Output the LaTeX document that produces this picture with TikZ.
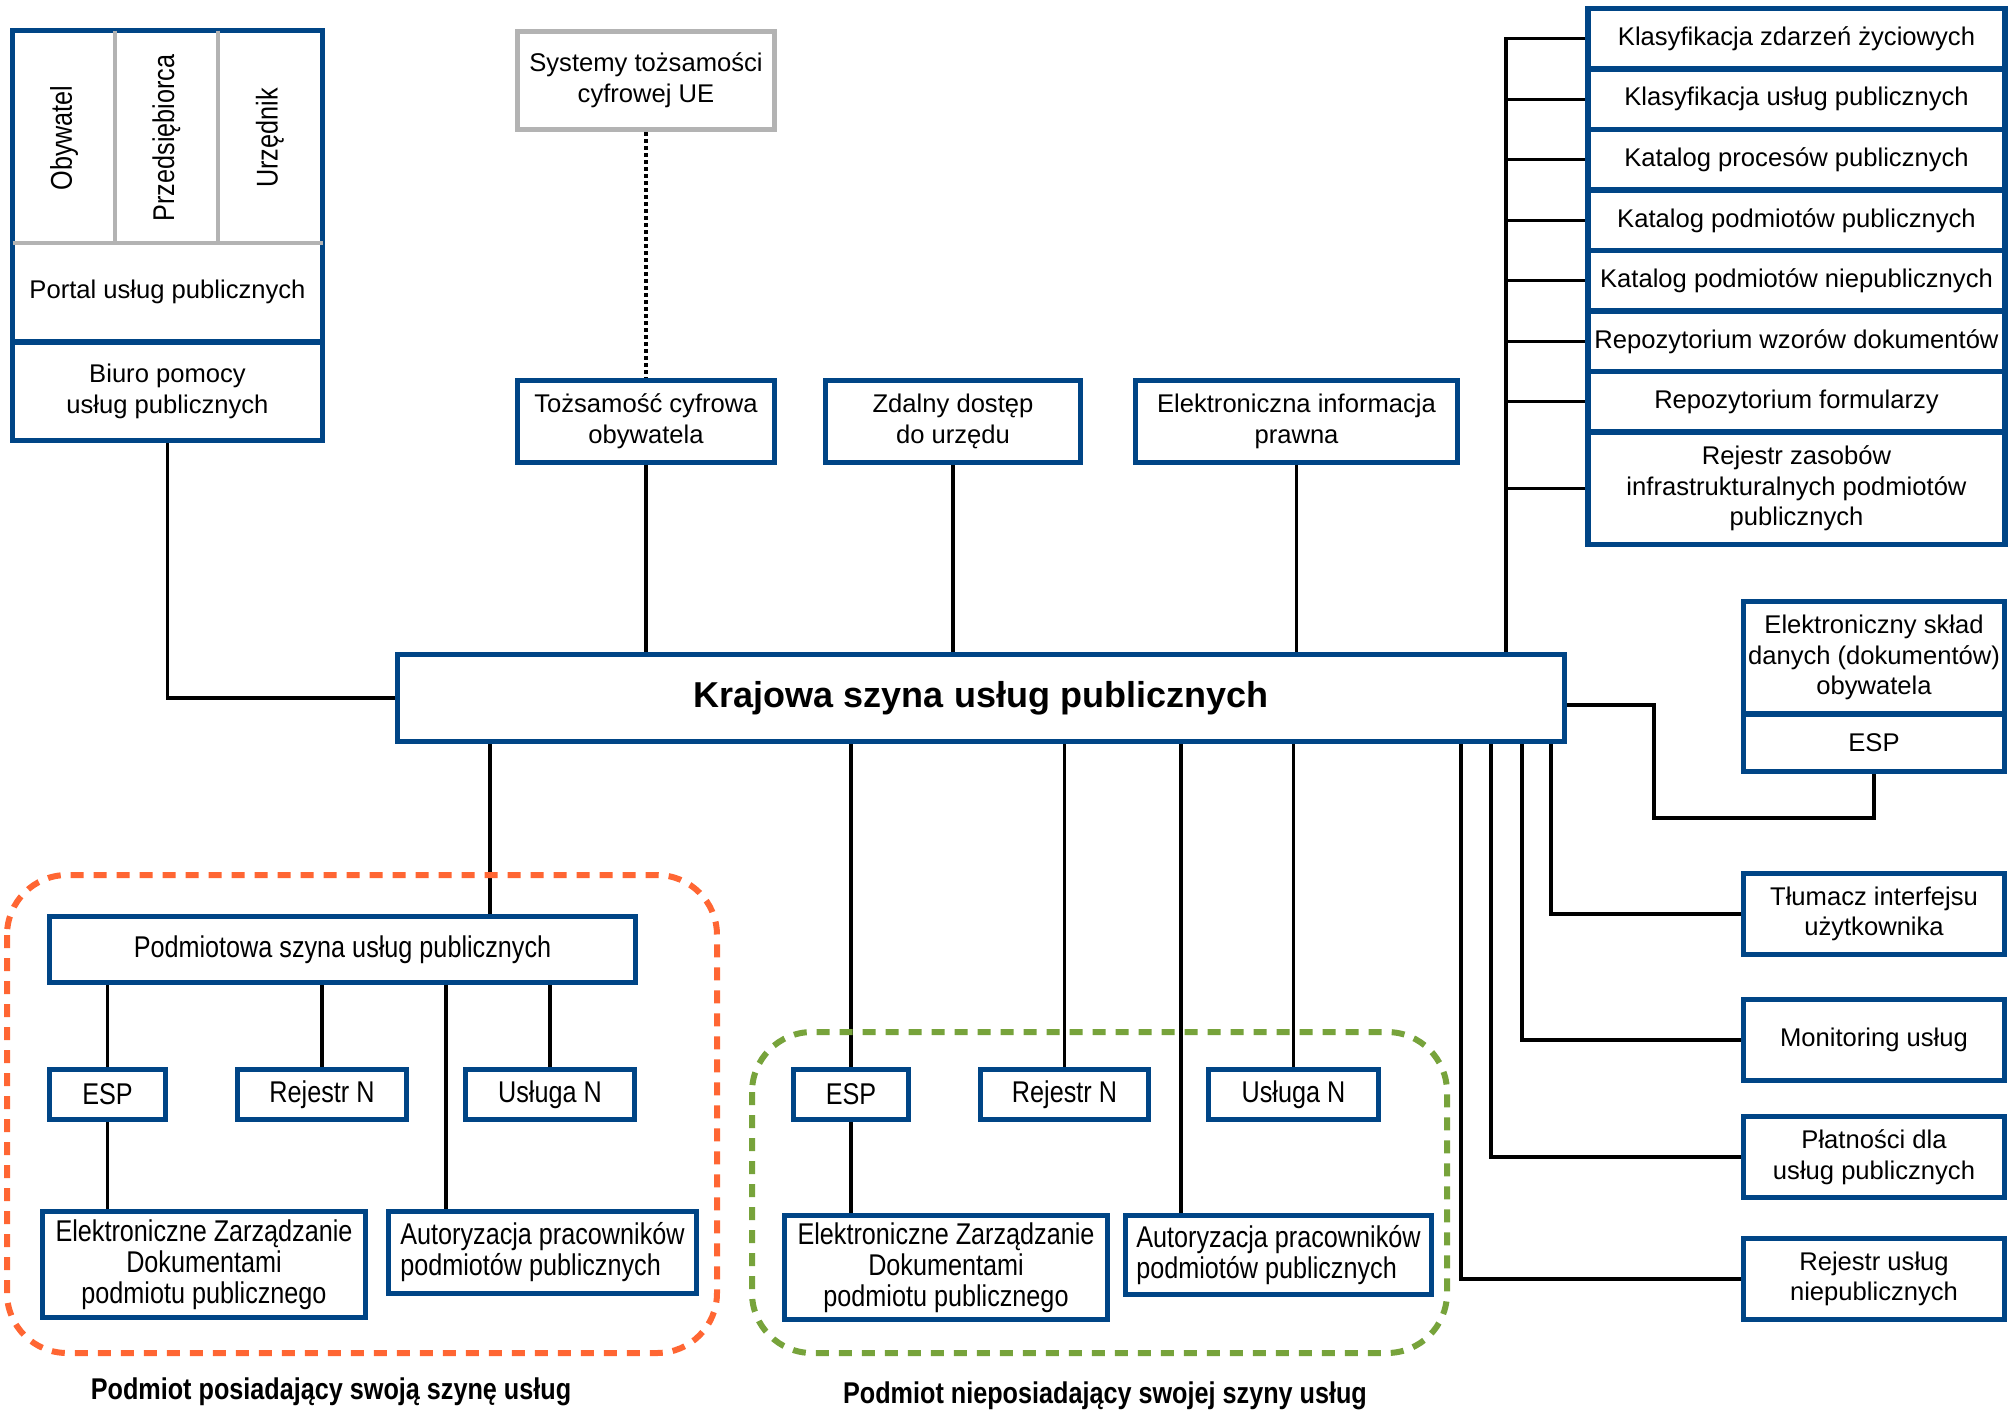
\documentclass[tikz,border=0pt]{standalone}
\usepackage{fontspec}
\setmainfont{Liberation Sans}
\newfontfamily\waskifont[FakeStretch=0.84]{Liberation Sans}
\usetikzlibrary{backgrounds}
\definecolor{szblue}{RGB}{0,69,134}
\definecolor{szgray}{RGB}{179,179,179}
\definecolor{szorange}{RGB}{255,102,51}
\definecolor{szgreen}{RGB}{119,163,59}
\begin{document}
\begin{tikzpicture}[x=0.5pt, y=-0.5pt,
    blok/.style={draw=szblue, line width=2.6pt, fill=white, inner sep=2pt, align=center, font=\fontsize{12.8}{15.3}\selectfont},
    waski/.style={blok, font=\waskifont\fontsize{15}{15.5}\selectfont},
    lacze/.style={line width=1.6pt},
    grupa/.style={line width=3pt, dash pattern=on 6.5pt off 5pt, rounded corners=30pt}]
  \useasboundingbox (0,0) rectangle (2010,1410);
  % portal i biuro pomocy
  \node[blok, minimum width=155pt, minimum height=155.75pt] (portal) at (167.5,186.25) {};
  \node[blok, minimum width=155pt, minimum height=49.25pt] (biuro) at (167.5,391.25) {Biuro pomocy\\usług publicznych};
  \draw[szgray, line width=2pt, shorten <=1.3pt, shorten >=1.3pt] (portal.west |- 0,243) -- (portal.east |- 0,243);
  \foreach \xx in {115,218} {
    \draw[szgray, line width=2pt, shorten <=1.3pt] (portal.north -| \xx,0) -- (\xx,243);
  }
  \foreach \t/\xx [count=\i] in {Obywatel/64, Przedsiębiorca/166.5, Urzędnik/270} {
    \node[rotate=90, font=\waskifont\fontsize{15}{15.5}\selectfont] (rola\i) at (\xx,138) {\t};
  }
  \node[font=\fontsize{12.8}{15.3}\selectfont] (portaltxt) at (167.5,292) {Portal usług publicznych};
  % gorny rzad
  \node[blok, draw=szgray, minimum width=128.5pt, minimum height=49pt] (ue) at (646,80.5) {Systemy tożsamości\\cyfrowej UE};
  \node[blok, minimum width=128.5pt, minimum height=41pt] (toz) at (646,421.5) {Tożsamość cyfrowa\\obywatela};
  \node[blok, minimum width=127.5pt, minimum height=41pt] (zdal) at (953,421.5) {Zdalny dostęp\\do urzędu};
  \node[blok, minimum width=161pt, minimum height=41pt] (eip) at (1296.5,421.5) {Elektroniczna informacja\\prawna};
  % szyna krajowa
  \node[blok, minimum width=583.5pt, minimum height=43.5pt, font=\bfseries\fontsize{18}{20}\selectfont] (ksup) at (981,698) {Krajowa szyna usług publicznych};
  % rejestry i katalogi
  \foreach \t [count=\i] in {Klasyfikacja zdarzeń życiowych, Klasyfikacja usług publicznych, Katalog procesów publicznych, Katalog podmiotów publicznych, Katalog podmiotów niepublicznych, Repozytorium wzorów dokumentów, Repozytorium formularzy} {
    \node[blok, minimum width=208.5pt, minimum height=30.25pt] (rej\i) at (1796.5,{38.75+(\i-1)*60.5}) {\t};
  }
  \node[blok, minimum width=208.5pt, minimum height=56.25pt] (rej8) at (1796.5,488.25) {Rejestr zasobów\\infrastrukturalnych podmiotów\\publicznych};
  % uslugi po prawej
  \node[blok, minimum width=130.5pt, minimum height=56.25pt] (eskl) at (1874,657.75) {Elektroniczny skład\\danych (dokumentów)\\obywatela};
  \node[blok, minimum width=130.5pt, minimum height=28.75pt] (esp) at (1874,742.75) {ESP};
  \foreach \t/\yy [count=\i] in {Tłumacz interfejsu\\użytkownika/914, Monitoring usług/1040, Płatności dla\\usług publicznych/1157, Rejestr usług\\niepublicznych/1279} {
    \node[blok, minimum width=130.5pt, minimum height=40.5pt] (us\i) at (1874,\yy) {\t};
  }
  % podmiot z wlasna szyna
  \node[waski, minimum width=293pt, minimum height=33pt] (pszyna) at (342.5,949.5) {Podmiotowa szyna usług publicznych};
  \node[waski, minimum width=58pt, minimum height=25pt] (espA) at (107.5,1094.5) {ESP};
  \node[waski, minimum width=84.5pt, minimum height=25pt] (rejA) at (322,1094.5) {Rejestr N};
  \node[waski, minimum width=84.5pt, minimum height=25pt] (uslA) at (550,1094.5) {Usługa N};
  \node[waski, minimum width=161.5pt, minimum height=53pt] (ezdA) at (204,1264.5) {Elektroniczne Zarządzanie\\Dokumentami\\podmiotu publicznego};
  \node[waski, minimum width=154pt, minimum height=41pt, align=left] (autA) at (542.5,1252.5) {Autoryzacja pracowników\\podmiotów publicznych};
  \draw[grupa, szorange] (7,875) rectangle (717,1353);
  \node[font=\waskifont\bfseries\fontsize{15}{17}\selectfont] (etyA) at (331,1392) {Podmiot posiadający swoją szynę usług};
  % podmiot bez szyny
  \node[waski, minimum width=57.5pt, minimum height=25pt] (espB) at (851,1094.5) {ESP};
  \node[waski, minimum width=84pt, minimum height=25pt] (rejB) at (1064.5,1094.5) {Rejestr N};
  \node[waski, minimum width=85pt, minimum height=25pt] (uslB) at (1293.5,1094.5) {Usługa N};
  \node[waski, minimum width=161.5pt, minimum height=52pt] (ezdB) at (946,1267.5) {Elektroniczne Zarządzanie\\Dokumentami\\podmiotu publicznego};
  \node[waski, minimum width=153pt, minimum height=39.5pt, align=left] (autB) at (1278.5,1255) {Autoryzacja pracowników\\podmiotów publicznych};
  \draw[grupa, szgreen] (752,1032) rectangle (1447,1353);
  \node[font=\waskifont\bfseries\fontsize{15}{17}\selectfont] (etyB) at (1105,1396) {Podmiot nieposiadający swojej szyny usług};
  % polaczenia
  \begin{scope}[on background layer]
    \draw[lacze, dash pattern=on 2pt off 1.5pt] (ue.south) -- (toz.north);
    \foreach \n in {toz,zdal,eip} {
      \draw[lacze] (\n.south) -- (\n.south |- ksup.north);
    }
    \draw[lacze] (biuro.south) |- (ksup.west);
    \coordinate (pien) at (1506,0);
    \draw[lacze] (ksup.north -| pien) |- (rej1.west);
    \foreach \i in {2,...,8} {
      \draw[lacze] (pien |- rej\i.west) -- (rej\i.west);
    }
    \coordinate (zakret) at (1654,818);
    \draw[lacze] ([yshift=-3.5pt]ksup.east) -| (zakret) -| (esp.south);
    \foreach \i/\xx in {1/1551, 2/1522, 3/1491, 4/1461} {
      \draw[lacze] (ksup.south -| \xx,0) |- (us\i.west);
    }
    \draw[lacze] (ksup.south -| 490,0) -- (pszyna.north -| 490,0);
    \foreach \n in {espA,rejA,uslA} {
      \draw[lacze] (pszyna.south -| \n.north) -- (\n.north);
    }
    \draw[lacze] (pszyna.south -| 446,0) -- (autA.north -| 446,0);
    \draw[lacze] (espA.south) -- (espA.south |- ezdA.north);
    \foreach \n in {espB,rejB,uslB} {
      \draw[lacze] (ksup.south -| \n.north) -- (\n.north);
    }
    \draw[lacze] (ksup.south -| 1181,0) -- (autB.north -| 1181,0);
    \draw[lacze] (espB.south) -- (espB.south |- ezdB.north);
  \end{scope}
\end{tikzpicture}
\end{document}
